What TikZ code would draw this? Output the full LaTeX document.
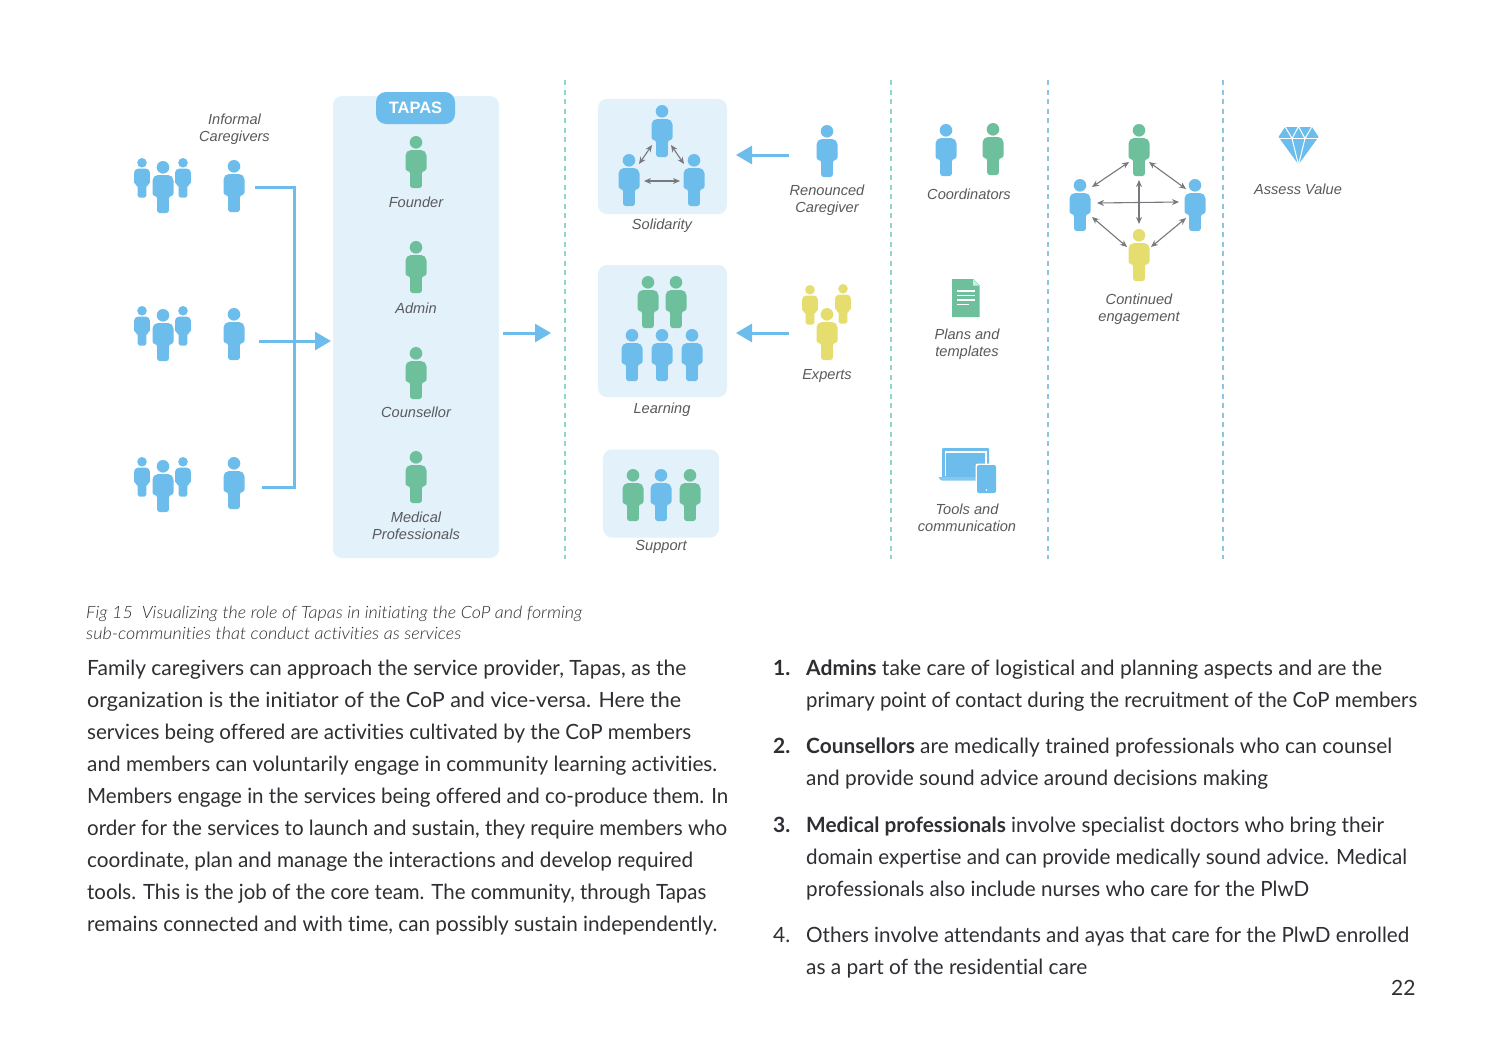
\documentclass[tikz,border=0pt]{standalone}
\usepackage{graphicx}
\usepackage{fontspec}
\setmainfont{Lato}[Ligatures=NoCommon]
\newfontfamily\capfont{Lato Light}[Ligatures=NoCommon]
\newfontfamily\labfont{Liberation Sans}
\usetikzlibrary{arrows.meta}
\definecolor{pblue}{HTML}{6CBDEC}
\definecolor{pgreen}{HTML}{6DC09B}
\definecolor{pyellow}{HTML}{E5DE6E}
\definecolor{panelblue}{HTML}{E3F1FB}
\definecolor{labgrey}{HTML}{5A5A5E}
\definecolor{arrgrey}{HTML}{77797C}
\definecolor{dashteal}{HTML}{8FD6CA}
\definecolor{dashblue}{HTML}{8FC3DE}
\definecolor{bodyc}{HTML}{2E2E33}
\newsavebox{\fitbox}
\newcommand{\fitw}[2]{\sbox{\fitbox}{#2}\pgfmathsetmacro{\fitf}{#1pt/\the\wd\fitbox}\scalebox{\fitf}[1]{\usebox{\fitbox}}}
\tikzset{
  panel/.style={fill=panelblue,rounded corners=9pt,inner sep=0pt},
  lab/.style={font=\labfont\itshape\fontsize{14.6}{17}\selectfont,text=labgrey,inner sep=0pt,anchor=base},
  bluearrow/.style={draw=pblue,line width=3pt,-{Triangle[length=16pt,width=18pt]}},
  blueline/.style={draw=pblue,line width=3pt},
  twoway/.style={draw=arrgrey,line width=1.1pt,{Stealth[length=7pt,width=6pt]}-{Stealth[length=7pt,width=6pt]}},
  divider/.style={line width=1.2pt,dash pattern=on 5pt off 4.5pt},
  bodyline/.style={font=\fontsize{21}{25}\selectfont,text=bodyc,inner sep=0pt,anchor=base west},
  capline/.style={font=\capfont\itshape\fontsize{17}{20}\selectfont,text=bodyc,inner sep=0pt,anchor=base west},
}
% name, x, top y, scale, colour
\newcommand{\person}[5]{%
  \coordinate (#1) at (#2,#3);
  \begin{scope}[shift={(#2,#3)},scale=#4]
    \fill[#5] (0,6.3) circle [radius=6.3];
    \pgfmathsetmacro{\rb}{5.5*#4}\pgfmathsetmacro{\rs}{2.6*#4}
    \fill[#5,rounded corners=\rb pt] (-10.5,26) -- (-10.5,14) -- (10.5,14) -- (10.5,26)
      [rounded corners=\rs pt] -- (10.5,35) -- (5.9,35) -- (5.9,52) -- (-5.9,52) -- (-5.9,35) -- (-10.5,35) -- cycle;
  \end{scope}}
\newcommand{\crowd}[3]{% name, left-small top y, big top y
  \person{#1a}{142}{#2}{0.76}{pblue}
  \person{#1b}{183}{#2}{0.76}{pblue}
  \person{#1c}{163}{#3}{1}{pblue}}
\begin{document}
\begin{tikzpicture}[x=1pt,y=-1pt]
\useasboundingbox (0,0) rectangle (1500,1061);
\fill[white] (0,0) rectangle (1500,1061);

% dividers
\foreach \n/\x/\c in {da/565/dashteal,db/891/dashteal,dc/1048/dashblue,dd/1223/dashblue}{
  \coordinate (\n t) at (\x,80);
  \coordinate (\n b) at (\x,559);
  \draw[divider,\c] (\n t) -- (\n b);
}

% Tapas panel
\node[panel,minimum width=166pt,minimum height=462pt] (tapaspanel) at (416,327) {};
\node[fill=pblue,rounded corners=10pt,minimum width=79pt,minimum height=32pt,inner sep=0pt,text=white,font=\labfont\bfseries\fontsize{16.5}{18}\selectfont] (tapas) at (415.5,108) {TAPAS};
\person{founder}{416}{136}{1}{pgreen}
\node[lab] (lfounder) at (416,207) {Founder};
\person{admin}{416}{241}{1}{pgreen}
\node[lab] (ladmin) at (416,313) {Admin};
\person{counsellor}{416}{347}{1}{pgreen}
\node[lab] (lcounsellor) at (416,417) {Counsellor};
\person{medical}{416}{451}{1}{pgreen}
\node[lab] (lmed) at (416,522) {Medical};
\node[lab] (lprof) at (416,539) {Professionals};

% Informal caregivers
\node[lab] (linformal) at (234.5,124) {Informal};
\node[lab] (lcaregivers) at (234.5,141) {Caregivers};
\crowd{ra}{158}{161}
\person{rasingle}{234}{160}{1}{pblue}
\crowd{rb}{306}{309}
\person{rbsingle}{234}{308}{1}{pblue}
\crowd{rc}{457}{460}
\person{rcsingle}{234}{457}{1}{pblue}

\coordinate (s1) at (255,187);
\coordinate (j1) at (294,187);
\coordinate (s2) at (259,341);
\coordinate (e2) at (331,341);
\coordinate (s3) at (262,487);
\coordinate (j3) at (294,487);
\draw[blueline] (s1) -- (j1) -- (j3) -- (s3);
\draw[bluearrow] (s2) -- (e2);
\coordinate (s4) at (503,333);
\coordinate (e4) at (551,333);
\draw[bluearrow] (s4) -- (e4);

% Solidarity
\node[panel,minimum width=129pt,minimum height=115pt] (solbox) at (662.5,156.5) {};
\person{solt}{662}{105}{1}{pblue}
\person{soll}{629}{154}{1}{pblue}
\person{solr}{694}{154}{1}{pblue}
\coordinate (sa1) at (639,164); \coordinate (sa2) at (652,145);
\coordinate (sb1) at (671,145); \coordinate (sb2) at (684,164);
\coordinate (sc1) at (644,181); \coordinate (sc2) at (680,181);
\draw[twoway] (sa1) -- (sa2);
\draw[twoway] (sb1) -- (sb2);
\draw[twoway] (sc1) -- (sc2);
\node[lab] (lsol) at (662,229) {Solidarity};

\person{renounced}{827}{125}{1}{pblue}
\node[lab] (lren) at (827,195) {Renounced};
\node[lab] (lcar) at (827,212) {Caregiver};
\coordinate (s5) at (789,155); \coordinate (e5) at (736,155);
\draw[bluearrow] (s5) -- (e5);

% Learning
\node[panel,minimum width=129pt,minimum height=132pt] (learnbox) at (662.5,331) {};
\person{lg1}{648}{276}{1}{pgreen}
\person{lg2}{676}{276}{1}{pgreen}
\person{lb1}{632}{329}{1}{pblue}
\person{lb2}{662}{329}{1}{pblue}
\person{lb3}{692}{329}{1}{pblue}
\node[lab] (llearn) at (662,413) {Learning};

\person{ex1}{810}{285}{0.76}{pyellow}
\person{ex2}{843}{284}{0.76}{pyellow}
\person{ex3}{827}{308}{1}{pyellow}
\node[lab] (lexp) at (827,379.5) {Experts};
\coordinate (s6) at (789,333); \coordinate (e6) at (736,333);
\draw[bluearrow] (s6) -- (e6);

% Support
\node[panel,minimum width=116pt,minimum height=88pt] (supbox) at (661,493.5) {};
\person{su1}{633}{469}{1}{pgreen}
\person{su2}{661}{469}{1}{pblue}
\person{su3}{690}{469}{1}{pgreen}
\node[lab] (lsup) at (661,550) {Support};

% Core team
\person{co1}{946}{124}{1}{pblue}
\person{co2}{993}{123}{1}{pgreen}
\node[lab] (lcoord) at (969,199.5) {Coordinators};

% document icon
\fill[pgreen] (952,279) -- (973,279) -- (979.5,285.5) -- (979.5,317) -- (952,317) -- cycle;
\fill[white!70!pgreen] (973,279.5) -- (979,285.5) -- (973,285.5) -- cycle;
\foreach \yy/\xe in {291/975,295.5/975,300/975,304.5/969}{
  \draw[white,line width=1.2pt] (957,\yy) -- (\xe,\yy);
}
\node[lab] (lplans) at (967,339.5) {Plans and};
\node[lab] (ltempl) at (967,356.5) {templates};

% laptop & tablet icon
\fill[pblue,rounded corners=1pt] (942,448) rectangle (989,478);
\fill[white] (944.5,451) rectangle (986.5,476);
\fill[pblue] (946,452.5) rectangle (985,476);
\fill[pblue!85!white,rounded corners=1pt] (938,477) -- (985,477) -- (985,480.5) -- (941,480.5) -- cycle;
\fill[white,rounded corners=2pt] (975.5,463.5) rectangle (997.5,494.5);
\fill[pblue,rounded corners=2pt] (977,465) rectangle (996,493);
\fill[white] (986.5,490) circle [radius=0.8];
\node[lab] (ltools) at (967,514) {Tools and};
\node[lab] (lcomm) at (967,531) {communication};

% Continued engagement
\person{cg}{1139}{124}{1}{pgreen}
\person{cl}{1080}{179}{1}{pblue}
\person{cr}{1195}{179}{1}{pblue}
\person{cy}{1139}{229}{1}{pyellow}
\coordinate (ca1) at (1092,187); \coordinate (ca2) at (1129,162);
\coordinate (cb1) at (1149,162); \coordinate (cb2) at (1186,189);
\coordinate (cc1) at (1097,203); \coordinate (cc2) at (1179,202);
\coordinate (cd1) at (1139,180); \coordinate (cd2) at (1139,224);
\coordinate (ce1) at (1092,217); \coordinate (ce2) at (1127,247);
\coordinate (cf1) at (1186,218); \coordinate (cf2) at (1151,247);
\draw[twoway] (ca1) -- (ca2);
\draw[twoway] (cb1) -- (cb2);
\draw[twoway] (cc1) -- (cc2);
\draw[twoway] (cd1) -- (cd2);
\draw[twoway] (ce1) -- (ce2);
\draw[twoway] (cf1) -- (cf2);
\node[lab] (lcont) at (1139,304) {Continued};
\node[lab] (lenga) at (1139,321) {engagement};

% diamond icon
\fill[pblue] (1285,127) -- (1312,127) -- (1318.5,137) -- (1298.5,164.5) -- (1278.5,137) -- cycle;
\draw[white,line width=1pt] (1277,138.5) -- (1320,138.5);
\draw[white,line width=1pt] (1285,126.5) -- (1292,138.5) -- (1298.5,126.5) -- (1305,138.5) -- (1312,126.5);
\draw[white,line width=1pt] (1292,138.5) -- (1298.5,165) -- (1305,138.5);
\node[lab] (lassess) at (1298,194) {Assess Value};

% caption
\node[capline] (cap1) at (86,618) {\fitw{496}{Fig 15\hspace{0.5em}Visualizing the role of Tapas in initiating the CoP and forming}};
\node[capline] (cap2) at (86,639) {\fitw{375}{sub-communities that conduct activities as services}};

% left column
\node[bodyline] (b1) at (87,675.4) {\fitw{599}{Family caregivers can approach the service provider, Tapas, as the}};
\node[bodyline] (b2) at (87,707.4) {\fitw{594}{organization is the initiator of the CoP and vice-versa. Here the}};
\node[bodyline] (b3) at (87,739.4) {\fitw{604}{services being offered are activities cultivated by the CoP members}};
\node[bodyline] (b4) at (87,771.4) {\fitw{630}{and members can voluntarily engage in community learning activities.}};
\node[bodyline] (b5) at (87,803.4) {\fitw{641}{Members engage in the services being offered and co-produce them. In}};
\node[bodyline] (b6) at (87,835.4) {\fitw{640}{order for the services to launch and sustain, they require members who}};
\node[bodyline] (b7) at (87,867.4) {\fitw{606}{coordinate, plan and manage the interactions and develop required}};
\node[bodyline] (b8) at (87,899.4) {\fitw{619}{tools. This is the job of the core team. The community, through Tapas}};
\node[bodyline] (b9) at (87,931.4) {\fitw{630}{remains connected and with time, can possibly sustain independently.}};

% right column
\node[bodyline] (n1) at (773,675.4) {\textbf{1.}};
\node[bodyline] (r1) at (806,675.4) {\fitw{576}{\textbf{Admins} take care of logistical and planning aspects and are the}};
\node[bodyline] (r2) at (806,707.4) {\fitw{611}{primary point of contact during the recruitment of the CoP members}};
\node[bodyline] (n2) at (773,753.4) {\textbf{2.}};
\node[bodyline] (r3) at (806,753.4) {\fitw{586}{\textbf{Counsellors} are medically trained professionals who can counsel}};
\node[bodyline] (r4) at (806,785.4) {\fitw{462}{and provide sound advice around decisions making}};
\node[bodyline] (n3) at (773,832.4) {\textbf{3.}};
\node[bodyline] (r5) at (806,832.4) {\fitw{578}{\textbf{Medical professionals} involve specialist doctors who bring their}};
\node[bodyline] (r6) at (806,864.4) {\fitw{601}{domain expertise and can provide medically sound advice. Medical}};
\node[bodyline] (r7) at (806,896.4) {\fitw{503}{professionals also include nurses who care for the PlwD}};
\node[bodyline] (n4) at (773,942.4) {4.};
\node[bodyline] (r8) at (806,942.4) {\fitw{603}{Others involve attendants and ayas that care for the PlwD enrolled}};
\node[bodyline] (r9) at (806,974.4) {\fitw{281}{as a part of the residential care}};
\node[bodyline] (pageno) at (1391,995.4) {22};
\end{tikzpicture}
\end{document}
